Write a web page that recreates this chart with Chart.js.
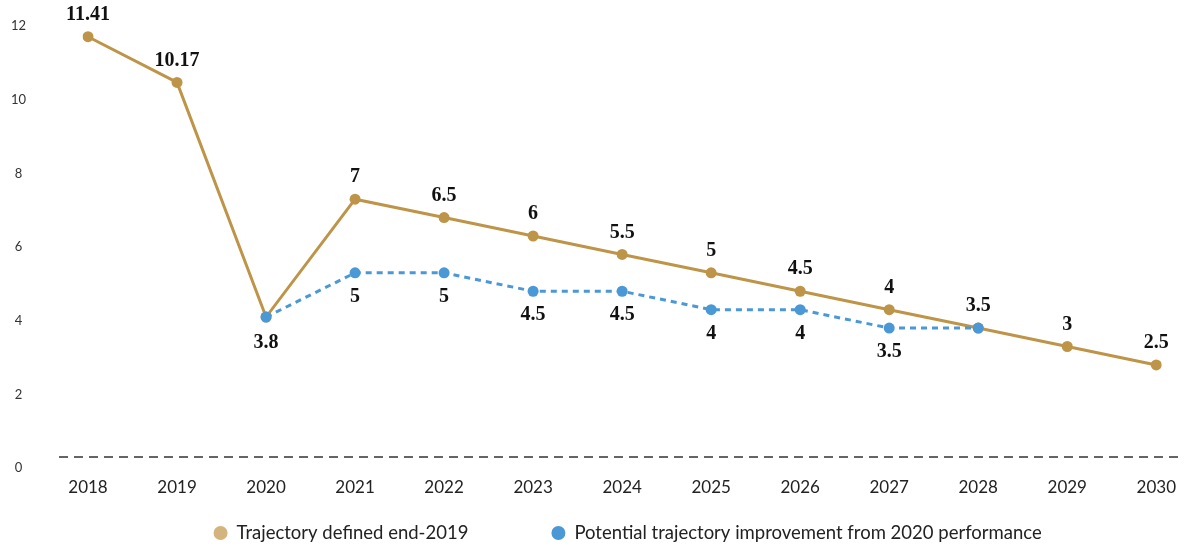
<!DOCTYPE html>
<html>
<head>
<meta charset="utf-8">
<title>Trajectory</title>
<script src="https://cdn.jsdelivr.net/npm/chart.js@4/dist/chart.umd.min.js"></script>
<style>
  html, body { margin: 0; padding: 0; background: #fff; }
  #wrap { width: 1196px; height: 546px; }
</style>
</head>
<body>
<div id="wrap"><canvas id="trajChart" width="1196" height="546"></canvas></div>
<script>
// years on the x axis
var years = ['2018', '2019', '2020', '2021', '2022', '2023', '2024', '2025', '2026', '2027', '2028', '2029', '2030'];
// trajectory defined end-2019
var trajectoryValues = [11.41, 10.17, 3.8, 7, 6.5, 6, 5.5, 5, 4.5, 4, 3.5, 3, 2.5];
// potential improvement from 2020 performance (starts and ends on the main trajectory)
var improvedValues = [null, null, 3.8, 5, 5, 4.5, 4.5, 4, 4, 3.5, 3.5, null, null];
var seriesNames = ['Trajectory defined end-2019', 'Potential trajectory improvement from 2020 performance'];
var yTicks = [0, 2, 4, 6, 8, 10, 12];

var goldLine = '#be9548';
var goldDot = '#d3b47e';
var blueLine = '#4a98d6';

function fmt(v) {
    return String(v);
}

// dashed zero line, a bit wider than the plot itself
var zeroLine = {
    id: 'zeroLine',
    beforeDatasetsDraw: function(chart) {
        var ctx = chart.ctx;
        var area = chart.chartArea;
        var y = chart.scales.y.getPixelForValue(0);
        ctx.save();
        ctx.strokeStyle = '#333';
        ctx.lineWidth = 1.5;
        ctx.setLineDash([9, 6]);
        ctx.beginPath();
        ctx.moveTo(area.left - 29, y);
        ctx.lineTo(area.right + 25, y);
        ctx.stroke();
        ctx.restore();
    }
};

// value labels: gold above its points, blue below
var valueLabels = {
    id: 'valueLabels',
    afterDatasetsDraw: function(chart) {
        var ctx = chart.ctx;
        var gold = chart.getDatasetMeta(0);
        var blue = chart.getDatasetMeta(1);
        var firstBlue = -1, lastBlue = -1;
        improvedValues.forEach(function(v, i) {
            if (v !== null) {
                if (firstBlue < 0) firstBlue = i;
                lastBlue = i;
            }
        });
        ctx.save();
        ctx.font = 'bold 20px "Liberation Serif", serif';
        ctx.fillStyle = '#111';
        ctx.textAlign = 'center';
        ctx.textBaseline = 'middle';
        gold.data.forEach(function(pt, i) {
            var below = (i === firstBlue);
            ctx.fillText(fmt(trajectoryValues[i]), pt.x, pt.y + (below ? 26 : -22));
        });
        blue.data.forEach(function(pt, i) {
            var v = improvedValues[i];
            if (v === null || i === firstBlue || i === lastBlue) return;
            ctx.fillText(fmt(v), pt.x, pt.y + 24);
        });
        ctx.restore();
    }
};

// legend row under the axis
var legendRow = {
    id: 'legendRow',
    afterDraw: function(chart) {
        var ctx = chart.ctx;
        var area = chart.chartArea;
        var colors = [goldDot, blueLine];
        var r = 7, gap = 16, spacing = 83;
        ctx.save();
        ctx.font = '18.5px Lato, "Noto Sans", sans-serif';
        ctx.textBaseline = 'middle';
        ctx.textAlign = 'left';
        var widths = seriesNames.map(function(s) { return ctx.measureText(s).width; });
        var total = 0;
        widths.forEach(function(w, i) { total += r + gap + w + (i > 0 ? spacing : 0); });
        total += r;
        var x = (area.left + area.right) / 2 + 9 - total / 2;
        var y = 533;
        seriesNames.forEach(function(name, i) {
            ctx.fillStyle = colors[i];
            ctx.beginPath();
            ctx.arc(x + r, y, r, 0, Math.PI * 2);
            ctx.fill();
            ctx.fillStyle = '#222';
            ctx.fillText(name, x + r + gap, y);
            x += r + gap + widths[i] + spacing;
        });
        ctx.restore();
    }
};

var ctx = document.getElementById('trajChart').getContext('2d');
var chart = new Chart(ctx, {
    type: 'line',
    data: {
        labels: years,
        datasets: [{
            label: seriesNames[0],
            data: trajectoryValues,
            borderColor: goldLine,
            backgroundColor: goldLine,
            borderWidth: 3,
            pointRadius: 5.5,
            pointBorderWidth: 0,
            pointBackgroundColor: goldLine,
            tension: 0,
            order: 2
        }, {
            label: seriesNames[1],
            data: improvedValues,
            borderColor: blueLine,
            backgroundColor: blueLine,
            borderWidth: 3,
            borderDash: [6, 5],
            pointRadius: 5.5,
            pointBorderWidth: 0,
            pointBackgroundColor: blueLine,
            tension: 0,
            order: 1
        }]
    },
    options: {
        responsive: false,
        animation: false,
        layout: { padding: { top: 15, right: 34, bottom: 49, left: 0 } },
        plugins: {
            legend: { display: false },
            tooltip: { enabled: false }
        },
        scales: {
            x: {
                afterFit: function(scale) { scale.height = 40; },
                grid: { display: false, drawTicks: false },
                border: { display: false },
                ticks: {
                    color: '#222',
                    padding: 20,
                    maxRotation: 0,
                    font: { family: 'Lato, "Noto Sans", sans-serif', size: 17 }
                }
            },
            y: {
                min: 0,
                max: 12,
                afterBuildTicks: function(scale) {
                    scale.ticks = yTicks.map(function(v) { return { value: v }; });
                },
                afterFit: function(scale) {
                    // wide gutter for the centred labels, without the tick padding eating the height
                    scale.width = 88;
                    scale.paddingTop = 8;
                    scale.paddingBottom = 8;
                },
                grid: { display: false, drawTicks: false },
                border: { display: false },
                ticks: {
                    color: '#333',
                    padding: 62,
                    crossAlign: 'center',
                    labelOffset: 11,
                    font: { family: 'Lato, "Noto Sans", sans-serif', size: 13 }
                }
            }
        }
    },
    plugins: [zeroLine, valueLabels, legendRow]
});
</script>
</body>
</html>
